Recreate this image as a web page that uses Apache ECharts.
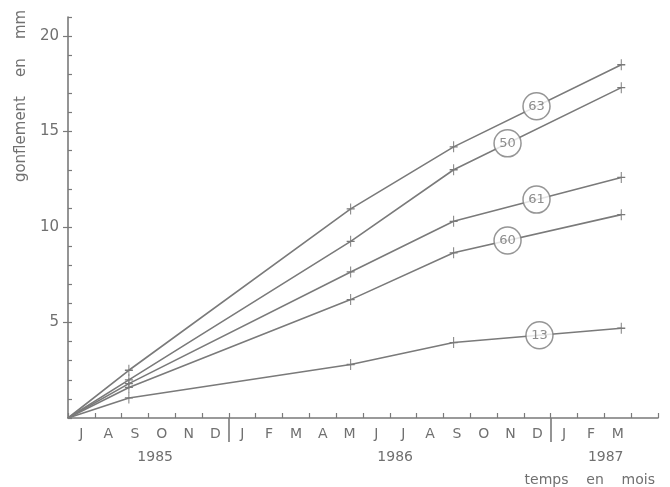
<!DOCTYPE html>
<html>
<head>
<meta charset="utf-8">
<script src="https://cdn.jsdelivr.net/npm/echarts@6/dist/echarts.min.js"></script>
<style>
html,body{margin:0;padding:0;background:#fff;}
#c{width:670px;height:487px;}
</style>
</head>
<body>
<div id="c"></div>
<script>
// time of measurement, in months since 1 July 1985
var times = [0, 2.27, 10.54, 14.38, 20.63];
// swelling (mm) per sample
var s63 = [0, 2.5, 10.95, 14.2, 18.5];
var s50 = [0, 2.0, 9.25, 13.0, 17.3];
var s61 = [0, 1.8, 7.65, 10.3, 12.6];
var s60 = [0, 1.6, 6.2, 8.65, 10.65];
var s13 = [0, 1.05, 2.8, 3.95, 4.7];
var seriesNames = ['63', '50', '61', '60', '13'];
var seriesValues = [s63, s50, s61, s60, s13];
// x (months) where the circled sample number sits on each line
var tagMonths = [17.47, 16.39, 17.47, 16.39, 17.58];
var monthLabels = ['J','A','S','O','N','D','J','F','M','A','M','J','J','A','S','O','N','D','J','F','M',''];
var yearLabels = ['1985', '1986', '1987'];
var yearTicks = [3.25, 12.2, 20.05];
var yLabels = [5, 10, 15, 20];

var GREY = '#7a7a7a';
var TXT = '#707070';
var FONT = 'DejaVu Sans';

function interp(xs, ys, x) {
  for (var i = 0; i < xs.length - 1; i++) {
    if (x >= xs[i] && x <= xs[i + 1]) {
      var t = (x - xs[i]) / (xs[i + 1] - xs[i]);
      return ys[i] + t * (ys[i + 1] - ys[i]);
    }
  }
  return ys[ys.length - 1];
}

var plus = 'path://M4.4,0h1.2v10h-1.2z M0,4.4h10v1.2h-10z';

var series = [];
seriesNames.forEach(function (name, k) {
  var vals = seriesValues[k];
  series.push({
    type: 'line',
    name: name,
    xAxisIndex: 0, yAxisIndex: 0,
    data: times.map(function (t, i) {
      var d = { value: [t, vals[i]] };
      if (i === 0) d.symbol = 'none';
      return d;
    }),
    symbol: plus,
    symbolSize: [8, 11],
    showSymbol: true,
    lineStyle: { color: GREY, width: 1.6 },
    itemStyle: { color: GREY },
    animation: false,
    silent: true,
    z: 2
  });
});

series.push({
  type: 'scatter',
  xAxisIndex: 0, yAxisIndex: 0,
  data: seriesNames.map(function (name, k) {
    var x = tagMonths[k];
    return { value: [x, interp(times, seriesValues[k], x)], name: name };
  }),
  symbol: 'circle',
  symbolSize: 27,
  itemStyle: { color: '#fff', borderColor: GREY, borderWidth: 1.5 },
  label: {
    show: true, position: 'inside',
    formatter: function (p) { return p.name; },
    color: TXT, fontSize: 13, fontFamily: FONT
  },
  animation: false,
  silent: true,
  z: 5
});

var chart = echarts.init(document.getElementById('c'), null, { renderer: 'canvas' });
chart.setOption({
  backgroundColor: '#fff',
  animation: false,
  grid: { left: 68, right: 12, top: 17, bottom: 69, containLabel: false },
  xAxis: [
    {
      type: 'value', min: 0, max: 22, interval: 1,
      axisLine: { show: true, lineStyle: { color: GREY, width: 1.6 } },
      axisTick: { show: true, inside: true, length: 5, lineStyle: { color: GREY, width: 1.2 } },
      axisLabel: { show: false },
      splitLine: { show: false }
    },
    {
      type: 'category', data: monthLabels, boundaryGap: true, position: 'bottom',
      axisLine: { show: false }, axisTick: { show: false },
      axisLabel: { show: true, interval: 0, margin: 9, color: TXT, fontSize: 14, fontFamily: FONT },
      splitLine: { show: false }
    },
    {
      type: 'value', min: 0, max: 22, position: 'bottom',
      axisLine: { show: false },
      axisTick: { show: true, inside: false, length: 24, customValues: [6, 18], lineStyle: { color: GREY, width: 1.6 } },
      axisLabel: {
        show: true, customValues: yearTicks, margin: 32, color: TXT, fontSize: 14, fontFamily: FONT,
        formatter: function (v) {
          var best = 0;
          for (var i = 1; i < yearTicks.length; i++) {
            if (Math.abs(yearTicks[i] - v) < Math.abs(yearTicks[best] - v)) best = i;
          }
          return yearLabels[best];
        }
      },
      splitLine: { show: false }
    }
  ],
  yAxis: [
    {
      type: 'value', min: 0, max: 21, interval: 1, position: 'left',
      axisLine: { show: true, lineStyle: { color: GREY, width: 1.6 } },
      axisTick: { show: true, inside: true, length: 4, lineStyle: { color: GREY, width: 1.2 } },
      axisLabel: {
        show: true, margin: 9, color: TXT, fontSize: 15, fontFamily: FONT,
        formatter: function (v) { return yLabels.indexOf(v) >= 0 ? String(v) : ''; }
      },
      splitLine: { show: false }
    },
    {
      type: 'value', min: 0, max: 21, position: 'left', offset: 0,
      axisLine: { show: false },
      axisTick: { show: true, inside: false, length: 5, customValues: yLabels, lineStyle: { color: GREY, width: 1.2 } },
      axisLabel: { show: false },
      splitLine: { show: false }
    }
  ],
  graphic: [
    {
      type: 'text', x: 21, y: 96, rotation: Math.PI / 2,
      style: { text: 'gonflement    en    mm', fill: TXT, fontSize: 15, fontFamily: FONT, textAlign: 'center', textVerticalAlign: 'middle' }
    },
    {
      type: 'text', x: 655, y: 480,
      style: { text: 'temps    en    mois', fill: TXT, fontSize: 14, fontFamily: FONT, textAlign: 'right', textVerticalAlign: 'middle' }
    }
  ],
  series: series
});
</script>
</body>
</html>
